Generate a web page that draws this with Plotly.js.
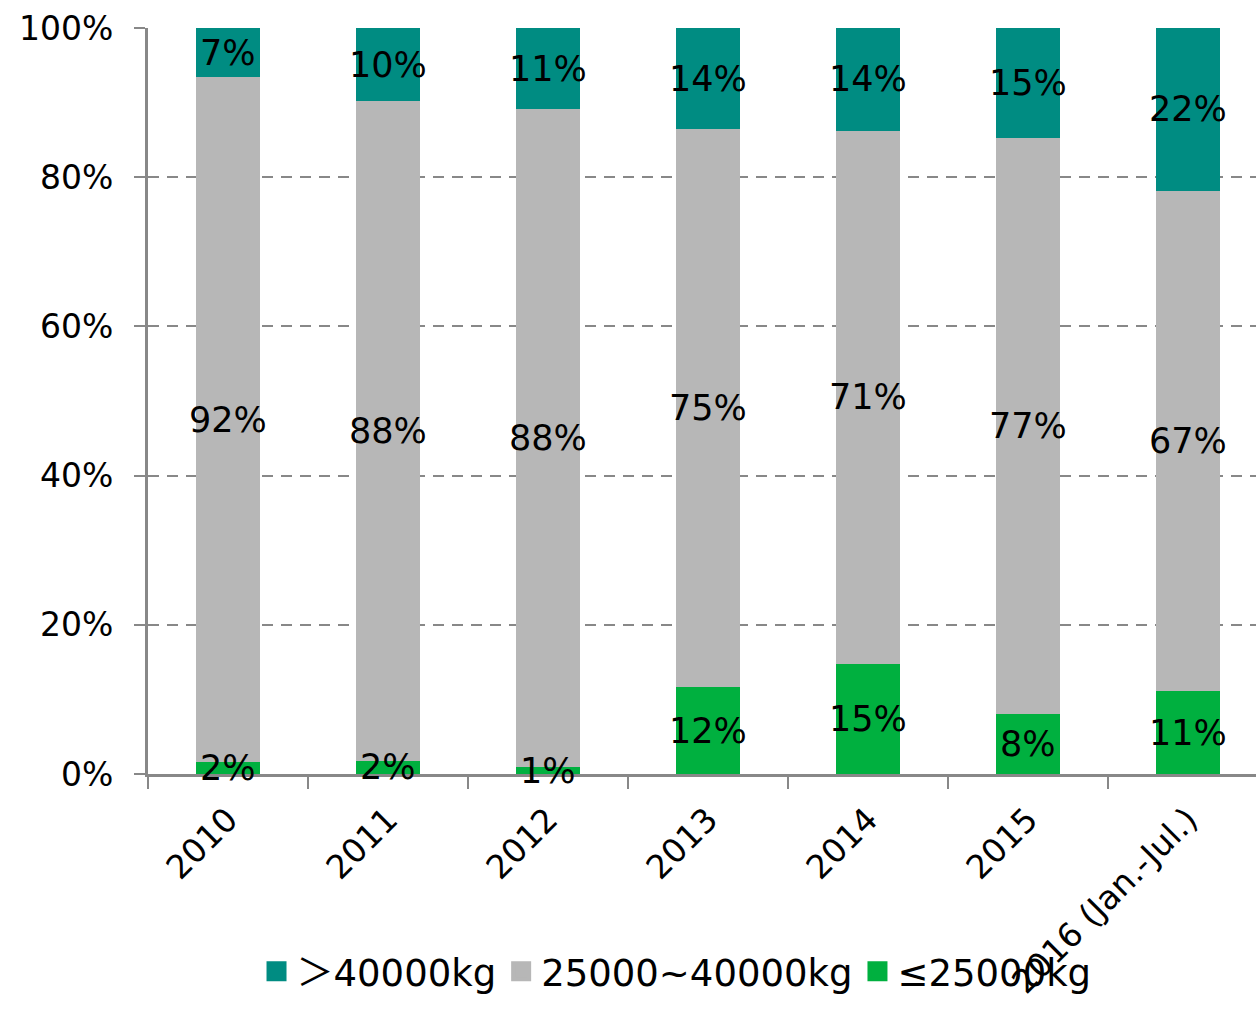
<!DOCTYPE html>
<html>
<head>
<meta charset="utf-8">
<script src="https://cdn.plot.ly/plotly-3.0.1.min.js"></script>
<style>html,body{margin:0;padding:0;background:#fff;}#chart{width:1256px;height:1010px;}</style>
</head>
<body>
<div id="chart"></div>
<script>
var categories = ["2010", "2011", "2012", "2013", "2014", "2015", "2016 (Jan.-Jul.)"];
var seriesNames = ["≤25000kg", "25000~40000kg", "＞40000kg"];
var light = [1.6, 1.8, 0.9, 11.6, 14.8, 8.0, 11.1];
var medium = [91.8, 88.4, 88.2, 74.8, 71.4, 77.3, 67.1];
var heavy = [6.6, 9.8, 10.9, 13.6, 13.8, 14.7, 21.8];
var yTickVals = [0, 20, 40, 60, 80, 100];
var yTickText = ["0%", "20%", "40%", "60%", "80%", "100%"];

var colors = ["#00B03F", "#B7B7B7", "#008C82"];
var FONT = "DejaVu Sans, Verdana, Noto Sans CJK SC, sans-serif";
var series = [light, medium, heavy];

var data = [];
// stacked bars
series.forEach(function (vals, i) {
  data.push({
    type: "bar",
    name: seriesNames[i],
    x: categories,
    y: vals,
    marker: {color: colors[i], line: {width: 0}},
    width: 0.4,
    hoverinfo: "none",
    showlegend: false
  });
});
// data labels at the middle of each stacked segment (x = category index)
var annotations = [];
var base = categories.map(function () { return 0; });
series.forEach(function (vals) {
  vals.forEach(function (v, j) {
    annotations.push({
      x: j,
      y: base[j] + v / 2,
      xref: "x", yref: "y",
      text: Math.round(v) + "%",
      showarrow: false,
      xanchor: "center", yanchor: "middle",
      yshift: 0,
      font: {family: FONT, size: 35, color: "#000"}
    });
  });
  base = base.map(function (b, j) { return b + vals[j]; });
});
// legend entries (no data drawn), square swatches like the reference
[2, 1, 0].forEach(function (i, k) {
  data.push({
    type: "scatter",
    mode: "markers",
    name: seriesNames[i],
    x: [null],
    y: [null],
    marker: {symbol: "square", size: 16, color: colors[i], line: {color: colors[i], width: 4}},
    hoverinfo: "none",
    legendrank: k + 1,
    showlegend: true
  });
});

var layout = {
  width: 1256,
  height: 1010,
  margin: {l: 148, r: 0, t: 28, b: 236, pad: 0},
  paper_bgcolor: "#fff",
  plot_bgcolor: "#fff",
  barmode: "stack",
  font: {family: FONT, size: 33, color: "#000"},
  annotations: annotations,
  showlegend: true,
  legend: {
    orientation: "h",
    traceorder: "normal",
    x: 0.477, xanchor: "center",
    y: -0.265, yanchor: "middle",
    bgcolor: "rgba(0,0,0,0)",
    font: {family: FONT, size: 37, color: "#000"},
    itemwidth: 30,
    itemsizing: "trace"
  },
  xaxis: {
    type: "category",
    range: [-0.5, 6.425],
    tickangle: -45,
    tickson: "boundaries",
    ticks: "outside",
    ticklen: 12,
    tickwidth: 2,
    tickcolor: "#888",
    showline: true,
    linecolor: "#888",
    linewidth: 3,
    showgrid: false,
    zeroline: false,
    ticklabelstandoff: 10,
    tickfont: {family: FONT, size: 33, color: "#000"},
    fixedrange: true
  },
  yaxis: {
    range: [0, 100],
    tickvals: yTickVals,
    ticktext: yTickText,
    ticks: "outside",
    ticklen: 11,
    tickwidth: 2,
    tickcolor: "#888",
    showline: true,
    linecolor: "#888",
    linewidth: 3,
    showgrid: true,
    gridcolor: "#888",
    gridwidth: 2,
    griddash: "11px,8px",
    zeroline: false,
    ticklabelstandoff: 14,
    tickfont: {family: FONT, size: 33, color: "#000"},
    fixedrange: true
  }
};

Plotly.newPlot("chart", data, layout, {displayModeBar: false, staticPlot: true});
</script>
</body>
</html>
